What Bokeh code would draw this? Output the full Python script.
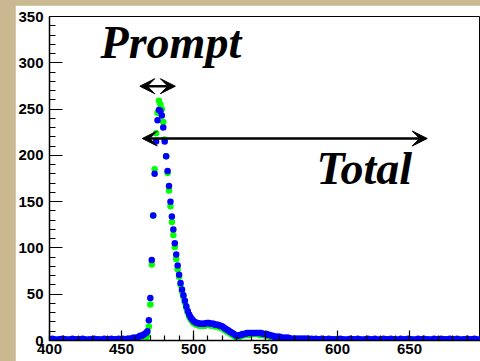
from bokeh.plotting import figure
from bokeh.models import Range1d, SingleIntervalTicker, Label, Arrow, VeeHead, Spacer
from bokeh.layouts import row, column
from bokeh.embed import file_html
from bokeh.resources import INLINE

# ---- data (bins of 1 unit, 400..699) ----
bins = list(range(400, 700))

blue_counts = [
    1, 1, 2, 1, 1, 0, 1, 1, 1, 2, 1, 1, 1, 0, 1, 1, 2, 1, 1, 1,
    1, 1, 1, 2, 1, 1, 0, 1, 1, 1, 1, 2, 1, 1, 1, 1, 0, 1, 2, 1,
    1, 1, 1, 2, 1, 1, 1, 1, 2, 1, 1, 2, 1, 1, 2, 2, 2, 2, 3, 3,
    3, 3, 4, 5, 5, 6, 7, 8, 10, 22, 46, 87, 135, 180, 215, 238, 249, 248, 243, 230,
    215, 199, 183, 167, 150, 134, 120, 105, 93, 81, 71, 62, 55, 49, 43, 37, 32, 28, 25, 23,
    21, 20, 19, 19, 18, 18, 18, 18, 18, 19, 19, 19, 18, 18, 18, 17, 17, 17, 16, 16,
    15, 14, 13, 12, 11, 10, 9, 8, 7, 6, 5, 5, 6, 6, 7, 7, 7, 8, 8, 8,
    8, 8, 8, 8, 8, 8, 8, 8, 7, 7, 7, 7, 6, 6, 5, 5, 4, 4, 4, 4,
    4, 3, 3, 3, 3, 3, 3, 2, 2, 2, 2, 2, 2, 2, 2, 2, 2, 2, 2, 2,
    2, 1, 2, 1, 1, 2, 1, 1, 1, 2, 1, 1, 1, 1, 2, 1, 1, 1, 1, 1,
    1, 1, 2, 1, 1, 1, 0, 1, 1, 2, 1, 1, 1, 1, 2, 1, 1, 0, 1, 1,
    1, 2, 1, 1, 1, 1, 2, 1, 0, 1, 1, 1, 2, 1, 1, 1, 1, 2, 1, 1,
    1, 1, 0, 1, 2, 1, 1, 1, 1, 2, 1, 1, 1, 0, 1, 1, 2, 1, 1, 1,
    2, 1, 1, 1, 1, 0, 1, 2, 1, 1, 1, 1, 2, 1, 1, 1, 1, 1, 2, 1,
    1, 1, 1, 2, 1, 1, 0, 1, 1, 1, 2, 1, 1, 1, 1, 2, 1, 1, 0, 1,
]

green_counts = [
    0, 0, 1, 0, 0, 0, 0, 1, 0, 0, 0, 0, 1, 0, 0, 0, 0, 0, 1, 0,
    0, 0, 0, 0, 1, 0, 0, 0, 0, 0, 1, 0, 0, 0, 0, 1, 0, 0, 0, 0,
    0, 1, 0, 0, 0, 0, 1, 0, 0, 0, 0, 1, 0, 0, 0, 1, 0, 1, 1, 1,
    1, 1, 1, 1, 2, 2, 3, 3, 6, 15, 39, 82, 135, 185, 224, 246, 259, 255, 250, 236,
    217, 199, 181, 162, 145, 128, 114, 101, 88, 77, 69, 60, 53, 47, 41, 35, 30, 26, 23, 21,
    19, 18, 17, 17, 16, 16, 16, 16, 16, 17, 17, 17, 16, 16, 16, 15, 15, 15, 14, 14,
    13, 12, 11, 10, 9, 8, 7, 6, 5, 4, 3, 3, 4, 5, 5, 6, 6, 6, 6, 6,
    7, 7, 7, 7, 7, 7, 6, 6, 6, 6, 5, 5, 5, 4, 4, 3, 3, 3, 2, 2,
    2, 2, 2, 1, 1, 1, 1, 1, 1, 1, 1, 1, 1, 1, 1, 0, 1, 1, 0, 1,
    0, 1, 0, 0, 1, 0, 0, 0, 1, 0, 0, 0, 0, 1, 0, 0, 0, 1, 0, 0,
    0, 0, 1, 0, 0, 0, 0, 1, 0, 0, 0, 1, 0, 0, 0, 0, 1, 0, 0, 0,
    1, 0, 0, 0, 0, 1, 0, 0, 0, 0, 1, 0, 0, 0, 1, 0, 0, 0, 0, 1,
    0, 0, 0, 1, 0, 0, 0, 0, 1, 0, 0, 0, 1, 0, 0, 0, 0, 1, 0, 0,
    0, 1, 0, 0, 0, 0, 1, 0, 0, 0, 1, 0, 0, 0, 0, 1, 0, 0, 0, 1,
    0, 0, 1, 0, 0, 0, 0, 1, 0, 0, 0, 1, 0, 0, 0, 0, 1, 0, 0, 0,
]

x_ticks_label_extra = "700"

TAN = "#c9b890"

p = figure(width=465, height=356, output_backend="svg", toolbar_location=None,
           x_range=Range1d(400, 699.3), y_range=Range1d(0, 350),
           min_border_left=34, min_border_right=0, min_border_top=11,
           min_border_bottom=21,
           background_fill_color="white", border_fill_color="white")
p.grid.visible = False
p.outline_line_color = "black"
p.outline_line_width = 1

tick_font = "Liberation Sans"
for ax in (p.xaxis[0], p.yaxis[0]):
    ax.ticker = SingleIntervalTicker(interval=50, num_minor_ticks=5)
    ax.axis_line_color = "black"
    ax.axis_line_width = 1.5
    ax.major_tick_line_color = "black"
    ax.minor_tick_line_color = "black"
    ax.major_tick_line_width = 1.2
    ax.minor_tick_line_width = 1.2
    ax.major_tick_out = 0
    ax.minor_tick_out = 0
    ax.major_label_text_font = tick_font
    ax.major_label_text_font_style = "bold"
    ax.major_label_text_font_size = "15px"
    ax.major_label_text_color = "black"

p.xaxis.major_tick_in = 10
p.xaxis.minor_tick_in = 5
p.xaxis.major_label_standoff = 3
p.yaxis.major_tick_in = 13
p.yaxis.minor_tick_in = 6
p.yaxis.major_label_standoff = 6

p.scatter(bins, green_counts, size=6.5, color="#00ff00", line_width=0)
p.scatter(bins, blue_counts, size=6.5, color="#0000ff", line_width=0)

# cut-off 700 tick label at the right edge (as in the reference)
p.add_layout(Label(x=700, y=-3.24, text=x_ticks_label_extra, text_align="center",
                   text_baseline="top", text_font=tick_font, text_font_style="bold",
                   text_font_size="15px", text_color="black"))

# arrows
def head():
    return VeeHead(size=15, fill_color="black", line_color="black", line_width=1)

p.add_layout(Arrow(start=head(), end=head(), x_start=462.7, y_start=274.7,
                   x_end=487.4, y_end=274.7, line_width=2.5, line_color="black"))
p.add_layout(Arrow(start=head(), end=head(), x_start=464.4, y_start=218.2,
                   x_end=662.3, y_end=218.2, line_width=2.5, line_color="black"))

p.add_layout(Label(x=435.5, y=322.0, text="Prompt", text_font="Liberation Serif",
                   text_font_style="bold italic", text_font_size="46px",
                   text_baseline="alphabetic", text_align="left", text_color="black"))
p.add_layout(Label(x=585.5, y=185.5, text="Total", text_font="Liberation Serif",
                   text_font_style="bold italic", text_font_size="46px",
                   text_baseline="alphabetic", text_align="left", text_color="black"))

left_strip = Spacer(width=15, height=361, styles={"background-color": TAN})
top_strip = Spacer(width=465, height=5, styles={"background-color": TAN})
layout = row(left_strip, column(top_strip, p, styles={"background-color": TAN}),
             styles={"background-color": TAN})

open("out.html", "w").write(file_html(layout, INLINE))
